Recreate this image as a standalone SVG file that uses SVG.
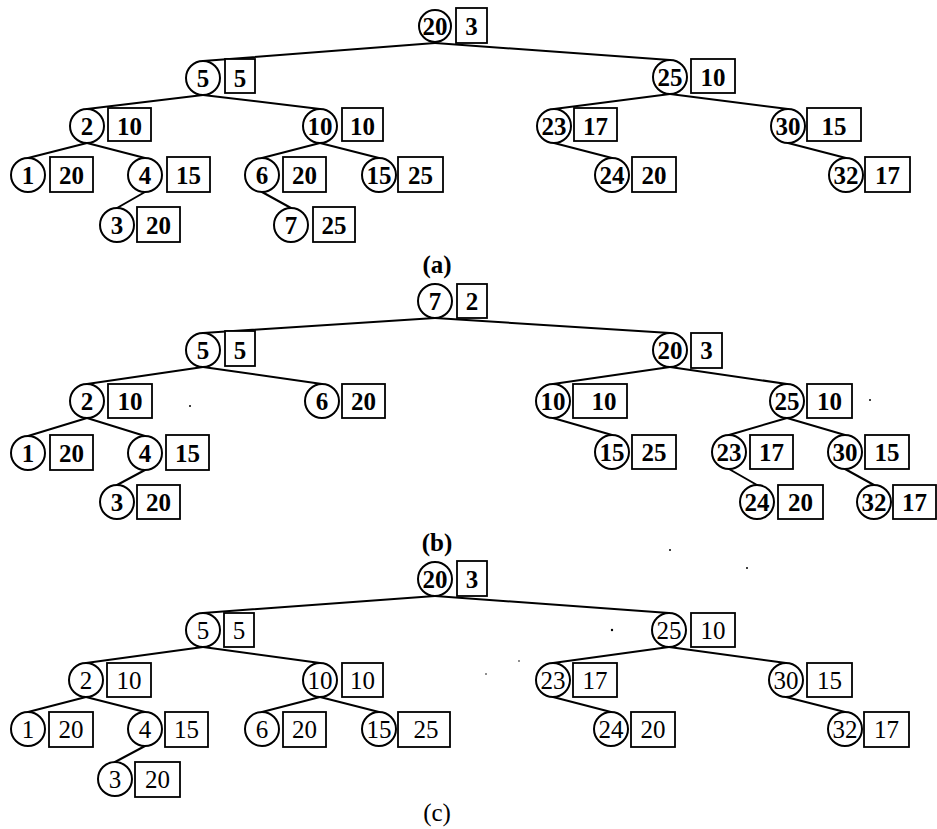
<svg xmlns="http://www.w3.org/2000/svg" width="937" height="829" viewBox="0 0 937 829">
<style>
.node circle{fill:#fff;stroke:#000;stroke-width:2}
.node rect{fill:#fff;stroke:#000;stroke-width:1.8}
.node text{font-family:"Liberation Serif",serif;font-size:25px;font-weight:bold;text-anchor:middle;fill:#000}
#tree-c .node text{font-weight:normal}
#tree-c .node text.b{font-weight:bold}
.edges line{stroke:#000;stroke-width:2;stroke-linecap:round}
.cap{font-family:"Liberation Serif",serif;font-size:25px;font-weight:bold;text-anchor:middle;fill:#000}
.cap.n{font-weight:normal}
.speck{fill:#000}
</style>
<rect width="937" height="829" fill="#fff"/>

<!-- Tree (a) -->
<g id="tree-a">
<g class="edges" id="edges-a">
<line x1="435" y1="43" x2="203" y2="61"/>
<line x1="435" y1="43" x2="670" y2="60"/>
<line x1="203" y1="95" x2="87" y2="109"/>
<line x1="203" y1="95" x2="320" y2="109"/>
<line x1="670" y1="94" x2="554" y2="109"/>
<line x1="670" y1="94" x2="788" y2="109"/>
<line x1="87" y1="143" x2="28" y2="158"/>
<line x1="87" y1="143" x2="145" y2="158"/>
<line x1="320" y1="143" x2="262" y2="158"/>
<line x1="320" y1="143" x2="379" y2="158"/>
<line x1="554" y1="143" x2="612" y2="158"/>
<line x1="788" y1="143" x2="846" y2="158"/>
<line x1="145" y1="192" x2="117" y2="208"/>
<line x1="262" y1="192" x2="291" y2="208"/>
</g>
<g id="a20" class="node"><circle cx="435" cy="26" r="16"/><text x="435" y="34.5">20</text><rect x="456" y="8" width="31" height="35"/><text x="471.5" y="34.5">3</text></g>
<g id="a5" class="node"><circle cx="203" cy="78" r="17"/><text x="203" y="86.5">5</text><rect x="225" y="59" width="30" height="34"/><text x="240" y="86.5">5</text></g>
<g id="a25" class="node"><circle cx="670" cy="77" r="17"/><text x="670" y="85.5">25</text><rect x="691" y="59" width="44" height="34"/><text x="713" y="85.5">10</text></g>
<g id="a2" class="node"><circle cx="87" cy="126" r="17"/><text x="87" y="134.5">2</text><rect x="108" y="108" width="43" height="33"/><text x="129.5" y="134.5">10</text></g>
<g id="a10" class="node"><circle cx="320" cy="126" r="17"/><text x="320" y="134.5">10</text><rect x="342" y="108" width="41" height="33"/><text x="362.5" y="134.5">10</text></g>
<g id="a23" class="node"><circle cx="554" cy="126" r="17"/><text x="554" y="134.5">23</text><rect x="574" y="108" width="43" height="33"/><text x="595.5" y="134.5">17</text></g>
<g id="a30" class="node"><circle cx="788" cy="126" r="17"/><text x="788" y="134.5">30</text><rect x="807" y="108" width="54" height="33"/><text x="834" y="134.5">15</text></g>
<g id="a1" class="node"><circle cx="28" cy="175" r="17"/><text x="28" y="183.5">1</text><rect x="50" y="157" width="43" height="35"/><text x="71.5" y="183.5">20</text></g>
<g id="a4" class="node"><circle cx="145" cy="175" r="17"/><text x="145" y="183.5">4</text><rect x="167" y="157" width="43" height="35"/><text x="188.5" y="183.5">15</text></g>
<g id="a6" class="node"><circle cx="262" cy="175" r="17"/><text x="262" y="183.5">6</text><rect x="283" y="157" width="43" height="35"/><text x="304.5" y="183.5">20</text></g>
<g id="a15" class="node"><circle cx="379" cy="175" r="17"/><text x="379" y="183.5">15</text><rect x="398" y="157" width="45" height="35"/><text x="420.5" y="183.5">25</text></g>
<g id="a24" class="node"><circle cx="612" cy="175" r="17"/><text x="612" y="183.5">24</text><rect x="632" y="157" width="44" height="35"/><text x="654" y="183.5">20</text></g>
<g id="a32" class="node"><circle cx="846" cy="175" r="17"/><text x="846" y="183.5">32</text><rect x="865" y="157" width="45" height="35"/><text x="887.5" y="183.5">17</text></g>
<g id="a3" class="node"><circle cx="117" cy="225" r="17"/><text x="117" y="233.5">3</text><rect x="137" y="207" width="43" height="35"/><text x="158.5" y="233.5">20</text></g>
<g id="a7" class="node"><circle cx="291" cy="225" r="17"/><text x="291" y="233.5">7</text><rect x="313" y="207" width="42" height="35"/><text x="334" y="233.5">25</text></g>
<text class="cap" x="437" y="273">(a)</text>
</g>

<!-- Tree (b) -->
<g id="tree-b">
<g class="edges" id="edges-b">
<line x1="435" y1="318" x2="203" y2="333"/>
<line x1="435" y1="318" x2="670" y2="333"/>
<line x1="203" y1="367" x2="87" y2="384"/>
<line x1="203" y1="367" x2="322" y2="384"/>
<line x1="670" y1="367" x2="553" y2="384"/>
<line x1="670" y1="367" x2="787" y2="384"/>
<line x1="87" y1="418" x2="28" y2="436"/>
<line x1="87" y1="418" x2="145" y2="436"/>
<line x1="553" y1="418" x2="612" y2="435"/>
<line x1="787" y1="418" x2="729" y2="435"/>
<line x1="787" y1="418" x2="845" y2="435"/>
<line x1="145" y1="470" x2="117" y2="485"/>
<line x1="729" y1="469" x2="757" y2="485"/>
<line x1="845" y1="469" x2="874" y2="485"/>
</g>
<g id="b7" class="node"><circle cx="435" cy="301" r="17"/><text x="435" y="309.5">7</text><rect x="457" y="284" width="30" height="34"/><text x="472" y="309.5">2</text></g>
<g id="b5" class="node"><circle cx="203" cy="350" r="17"/><text x="203" y="358.5">5</text><rect x="225" y="331" width="30" height="35"/><text x="240" y="358.5">5</text></g>
<g id="b20" class="node"><circle cx="670" cy="350" r="17"/><text x="670" y="358.5">20</text><rect x="691" y="333" width="31" height="35"/><text x="706.5" y="358.5">3</text></g>
<g id="b2" class="node"><circle cx="87" cy="401" r="17"/><text x="87" y="409.5">2</text><rect x="108" y="384" width="44" height="34"/><text x="130" y="409.5">10</text></g>
<g id="b6" class="node"><circle cx="322" cy="401" r="17"/><text x="322" y="409.5">6</text><rect x="342" y="384" width="43" height="34"/><text x="363.5" y="409.5">20</text></g>
<g id="b10" class="node"><circle cx="553" cy="401" r="17"/><text x="553" y="409.5">10</text><rect x="573" y="384" width="54" height="34"/><text x="604" y="409.5">10</text></g>
<g id="b25" class="node"><circle cx="787" cy="401" r="17"/><text x="787" y="409.5">25</text><rect x="807" y="384" width="45" height="34"/><text x="829.5" y="409.5">10</text></g>
<g id="b1" class="node"><circle cx="28" cy="453" r="17"/><text x="28" y="461.5">1</text><rect x="50" y="435" width="43" height="35"/><text x="71.5" y="461.5">20</text></g>
<g id="b4" class="node"><circle cx="145" cy="453" r="17"/><text x="145" y="461.5">4</text><rect x="166" y="435" width="43" height="35"/><text x="187.5" y="461.5">15</text></g>
<g id="b15" class="node"><circle cx="612" cy="452" r="17"/><text x="612" y="460.5">15</text><rect x="632" y="435" width="44" height="34"/><text x="654" y="460.5">25</text></g>
<g id="b23" class="node"><circle cx="729" cy="452" r="17"/><text x="729" y="460.5">23</text><rect x="750" y="435" width="43" height="34"/><text x="771.5" y="460.5">17</text></g>
<g id="b30" class="node"><circle cx="845" cy="452" r="17"/><text x="845" y="460.5">30</text><rect x="865" y="435" width="44" height="34"/><text x="887" y="460.5">15</text></g>
<g id="b3" class="node"><circle cx="117" cy="502" r="17"/><text x="117" y="510.5">3</text><rect x="137" y="485" width="43" height="34"/><text x="158.5" y="510.5">20</text></g>
<g id="b24" class="node"><circle cx="757" cy="502" r="17"/><text x="757" y="510.5">24</text><rect x="778" y="485" width="45" height="34"/><text x="800.5" y="510.5">20</text></g>
<g id="b32" class="node"><circle cx="874" cy="502" r="17"/><text x="874" y="510.5">32</text><rect x="893" y="485" width="43" height="34"/><text x="914.5" y="510.5">17</text></g>
<text class="cap" x="437" y="551">(b)</text>
</g>

<!-- Tree (c) -->
<g id="tree-c">
<g class="edges" id="edges-c">
<line x1="435" y1="596" x2="203" y2="613"/>
<line x1="435" y1="596" x2="669" y2="613"/>
<line x1="203" y1="647" x2="86" y2="663"/>
<line x1="203" y1="647" x2="320" y2="663"/>
<line x1="669" y1="647" x2="553" y2="663"/>
<line x1="669" y1="647" x2="786" y2="663"/>
<line x1="86" y1="697" x2="28" y2="712"/>
<line x1="86" y1="697" x2="145" y2="712"/>
<line x1="320" y1="697" x2="262" y2="712"/>
<line x1="320" y1="697" x2="379" y2="712"/>
<line x1="553" y1="697" x2="611" y2="712"/>
<line x1="786" y1="697" x2="845" y2="712"/>
<line x1="145" y1="746" x2="115" y2="762"/>
</g>
<g id="c20" class="node"><circle cx="435" cy="579" r="17"/><text class="b" x="435" y="587.5">20</text><rect x="457" y="561" width="30" height="35"/><text class="b" x="472" y="587.5">3</text></g>
<g id="c5" class="node"><circle cx="203" cy="630" r="17"/><text x="203" y="638.5">5</text><rect x="224" y="613" width="30" height="34"/><text x="239" y="638.5">5</text></g>
<g id="c25" class="node"><circle cx="669" cy="630" r="17"/><text x="669" y="638.5">25</text><rect x="691" y="613" width="44" height="34"/><text x="713" y="638.5">10</text></g>
<g id="c2" class="node"><circle cx="86" cy="680" r="17"/><text x="86" y="688.5">2</text><rect x="107" y="663" width="44" height="34"/><text x="129" y="688.5">10</text></g>
<g id="c10" class="node"><circle cx="320" cy="680" r="17"/><text x="320" y="688.5">10</text><rect x="342" y="663" width="41" height="34"/><text x="362.5" y="688.5">10</text></g>
<g id="c23" class="node"><circle cx="553" cy="680" r="17"/><text x="553" y="688.5">23</text><rect x="573" y="663" width="44" height="34"/><text x="595" y="688.5">17</text></g>
<g id="c30" class="node"><circle cx="786" cy="680" r="17"/><text x="786" y="688.5">30</text><rect x="807" y="663" width="45" height="34"/><text x="829.5" y="688.5">15</text></g>
<g id="c1" class="node"><circle cx="28" cy="729" r="17"/><text x="28" y="737.5">1</text><rect x="49" y="712" width="44" height="35"/><text x="71" y="737.5">20</text></g>
<g id="c4" class="node"><circle cx="145" cy="729" r="17"/><text x="145" y="737.5">4</text><rect x="165" y="712" width="43" height="35"/><text x="186.5" y="737.5">15</text></g>
<g id="c6" class="node"><circle cx="262" cy="729" r="17"/><text x="262" y="737.5">6</text><rect x="283" y="712" width="43" height="35"/><text x="304.5" y="737.5">20</text></g>
<g id="c15" class="node"><circle cx="379" cy="729" r="17"/><text x="379" y="737.5">15</text><rect x="398" y="712" width="52" height="35"/><text x="426" y="737.5">25</text></g>
<g id="c24" class="node"><circle cx="611" cy="729" r="17"/><text x="611" y="737.5">24</text><rect x="631" y="712" width="44" height="35"/><text x="653" y="737.5">20</text></g>
<g id="c32" class="node"><circle cx="845" cy="729" r="17"/><text x="845" y="737.5">32</text><rect x="864" y="712" width="45" height="35"/><text x="886.5" y="737.5">17</text></g>
<g id="c3" class="node"><circle cx="115" cy="779" r="17"/><text x="115" y="787.5">3</text><rect x="135" y="762" width="45" height="35"/><text x="157.5" y="787.5">20</text></g>
<text class="cap n" x="437" y="821">(c)</text>
</g>

<g id="specks">
<circle class="speck" cx="190" cy="406" r="1"/>
<circle class="speck" cx="870" cy="400" r="1"/>
<circle class="speck" cx="670" cy="550" r="1"/>
<circle class="speck" cx="747" cy="568" r="1"/>
<circle class="speck" cx="612" cy="630" r="1.2"/>
<circle class="speck" cx="519" cy="661" r="0.8"/>
<circle class="speck" cx="486" cy="674" r="0.8"/>
</g>
</svg>
